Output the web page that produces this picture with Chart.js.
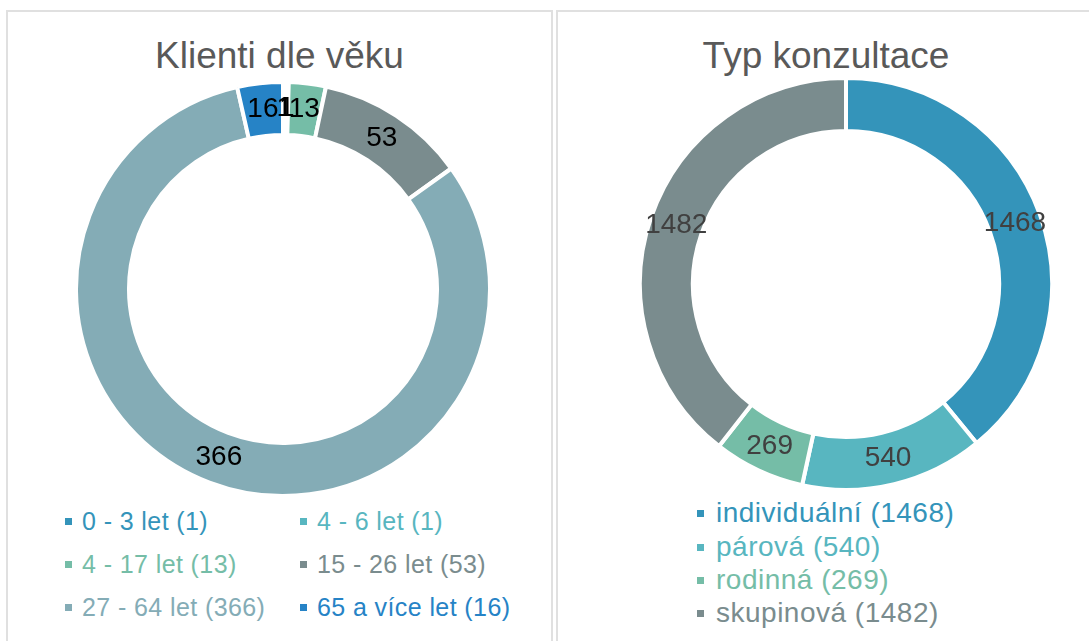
<!DOCTYPE html>
<html lang="cs">
<head>
<meta charset="utf-8">
<title>Klienti dle věku / Typ konzultace</title>
<script src="https://cdn.jsdelivr.net/npm/chart.js@4.4.1/dist/chart.umd.min.js"></script>
<style>
    html, body {
        margin: 0;
        padding: 0;
        background: #fff;
        width: 1089px;
        height: 641px;
        overflow: hidden;
        font-family: "Liberation Sans", Arial, sans-serif;
    }
    .panel {
        position: absolute;
        top: 10px;
        height: 660px;
        border: 2px solid #e0e0e0;
        box-sizing: border-box;
    }
    .title {
        position: absolute;
        top: 34px;
        height: 44px;
        line-height: 44px;
        font-size: 37px;
        color: #595959;
        text-align: center;
        white-space: nowrap;
    }
    .chart-box {
        position: absolute;
    }
    .legend-item {
        position: absolute;
        display: flex;
        align-items: center;
        white-space: nowrap;
        height: 30px;
        line-height: 30px;
    }
    .legend-item .box {
        width: 7px;
        height: 7px;
        flex: none;
    }
</style>
</head>
<body>

<div class="panel" style="left:6px; width:547px;"></div>
<div class="panel" style="left:556px; width:560px;"></div>

<div class="title" style="left:7px; width:545px;">Klienti dle věku</div>
<div class="title" style="left:557px; width:538px;">Typ konzultace</div>

<div class="chart-box" style="left:74px; top:80px; width:418px; height:418px;">
    <canvas id="chart-age" width="418" height="418"></canvas>
</div>
<div class="chart-box" style="left:638px; top:76px; width:416px; height:416px;">
    <canvas id="chart-type" width="416" height="416"></canvas>
</div>

<div id="legend-age"></div>
<div id="legend-type"></div>

<script>
// Klienti dle věku
const ageLabels = ['0 - 3 let', '4 - 6 let', '4 - 17 let', '15 - 26 let', '27 - 64 let', '65 a více let'];
const ageValues = [1, 1, 13, 53, 366, 16];
const ageColors = ['#3494ba', '#58b6c0', '#75bda7', '#7a8c8e', '#84acb6', '#2683c6'];

// Typ konzultace
const typeLabels = ['individuální', 'párová', 'rodinná', 'skupinová'];
const typeValues = [1468, 540, 269, 1482];
const typeColors = ['#3494ba', '#58b6c0', '#75bda7', '#7a8c8e'];

const FONT = '"Liberation Sans", Arial, sans-serif';

// popisky hodnot uprostřed výsečí
const valueLabels = {
    id: 'valueLabels',
    afterDatasetsDraw(chart, args, opts) {
        const ctx = chart.ctx;
        const meta = chart.getDatasetMeta(0);
        const values = chart.data.datasets[0].data;
        ctx.save();
        ctx.font = opts.size + 'px ' + FONT;
        ctx.fillStyle = opts.color;
        ctx.textAlign = 'center';
        ctx.textBaseline = 'middle';
        meta.data.forEach((arc, i) => {
            const p = arc.tooltipPosition();
            ctx.fillText(String(values[i]), p.x, p.y);
        });
        ctx.restore();
    }
};

function createDonut(canvasId, labels, values, colors, cutout, labelColor) {
    const ctx = document.getElementById(canvasId).getContext('2d');
    return new Chart(ctx, {
        type: 'doughnut',
        data: {
            labels: labels,
            datasets: [{
                data: values,
                backgroundColor: colors,
                borderColor: '#ffffff',
                borderWidth: 4,
                hoverOffset: 0
            }]
        },
        options: {
            responsive: false,
            animation: false,
            cutout: cutout,
            layout: { padding: 0 },
            plugins: {
                legend: { display: false },
                tooltip: { enabled: false },
                title: { display: false },
                valueLabels: { color: labelColor, size: 28 }
            }
        },
        plugins: [valueLabels]
    });
}

// legenda jako text (barva textu = barva výseče)
function buildLegend(containerId, labels, values, colors, items) {
    const el = document.getElementById(containerId);
    labels.forEach((lab, i) => {
        const pos = items[i];
        const div = document.createElement('div');
        div.className = 'legend-item';
        div.style.left = pos.x + 'px';
        div.style.top = (pos.y - 15) + 'px';
        div.style.fontSize = pos.size + 'px';
        div.style.letterSpacing = pos.spacing + 'px';
        div.style.color = colors[i];
        const box = document.createElement('span');
        box.className = 'box';
        box.style.background = colors[i];
        box.style.marginRight = pos.gap + 'px';
        const txt = document.createElement('span');
        txt.textContent = lab + ' (' + values[i] + ')';
        div.appendChild(box);
        div.appendChild(txt);
        el.appendChild(div);
    });
}

window.onload = () => {
    createDonut('chart-age', ageLabels, ageValues, ageColors, '74.4%', '#000000');
    createDonut('chart-type', typeLabels, typeValues, typeColors, '74.3%', '#404040');

    const ageCols = [65, 300];
    const ageRows = [521, 564, 607];
    buildLegend('legend-age', ageLabels, ageValues, ageColors,
        ageLabels.map((_, i) => ({
            x: ageCols[i % 2], y: ageRows[Math.floor(i / 2)],
            size: 25, spacing: 0.4, gap: 10
        })));

    const typeRows = [513, 547, 580, 613];
    buildLegend('legend-type', typeLabels, typeValues, typeColors,
        typeLabels.map((_, i) => ({
            x: 697, y: typeRows[i], size: 28, spacing: 0.5, gap: 12
        })));
};
</script>
</body>
</html>
